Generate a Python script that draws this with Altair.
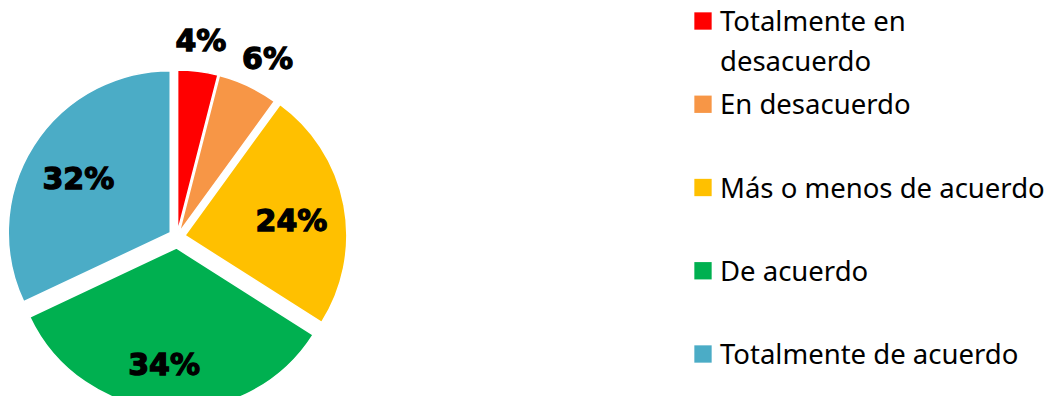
import altair as alt
import pandas as pd

# ---- data ----
categories = ["Totalmente en desacuerdo", "En desacuerdo", "Más o menos de acuerdo",
              "De acuerdo", "Totalmente de acuerdo"]
legend_labels = ["Totalmente en\ndesacuerdo", "En desacuerdo", "Más o menos de acuerdo",
                 "De acuerdo", "Totalmente de acuerdo"]
values = [4, 6, 24, 34, 32]

# ---- styles ----
colors = ["#FF0000", "#F79646", "#FFC000", "#00B050", "#4BACC6"]
explode_px = [5, 5, 8, 11, 8]
label_radius = [191, 194, 107.5, 119, 106]
label_shift_deg = [-0.2, 1.9, 3.6, 2.3, -2.5]

df = pd.DataFrame({
    "cat": categories,
    "legend": legend_labels,
    "value": values,
    "order": list(range(len(values))),
    "explode": explode_px,
    "lr": label_radius,
    "ls": label_shift_deg,
})

CX, CY, R = 169, 229, 162

base = alt.Chart(df).transform_window(
    cum="sum(value)", sort=[alt.SortField("order")], frame=[None, 0]
).transform_joinaggregate(
    total="sum(value)"
).transform_calculate(
    t1="datum.cum / datum.total * 2 * PI",
    t0="(datum.cum - datum.value) / datum.total * 2 * PI",
).transform_calculate(
    mid="(datum.t0 + datum.t1) / 2"
).transform_calculate(
    cx=f"{CX} + datum.explode * sin(datum.mid)",
    cy=f"{CY} - datum.explode * cos(datum.mid)",
    la="(datum.t0 + datum.t1) / 2 + datum.ls * PI / 180",
).transform_calculate(
    lx="datum.cx + datum.lr * sin(datum.la)",
    ly="datum.cy - datum.lr * cos(datum.la)",
    lbl="datum.value + '%'",
)

color = alt.Color("cat:N", scale=alt.Scale(domain=categories, range=colors), legend=None)

arcs = base.mark_arc(outerRadius=R, stroke="white", strokeWidth=1.5).encode(
    theta=alt.Theta("t0:Q", scale=None, stack=None),
    theta2=alt.Theta2("t1:Q"),
    x=alt.X("cx:Q", scale=None),
    y=alt.Y("cy:Q", scale=None),
    color=color,
)

labels = base.mark_text(font="DejaVu Sans", fontWeight="bold", fontSize=30,
                        color="black", stroke="black", strokeWidth=1.3).encode(
    x=alt.X("lx:Q", scale=None),
    y=alt.Y("ly:Q", scale=None),
    text="lbl:N",
)

leg_y = alt.Y("cat:N", scale=alt.Scale(domain=categories, range=[13, 346], padding=0),
              axis=None)

leg_sq = alt.Chart(df).mark_square(size=300, opacity=1, filled=True).encode(
    x=alt.value(695),
    y=leg_y,
    color=color,
)

leg_txt = alt.Chart(df).mark_text(align="left", baseline="top", dy=-12, lineBreak="\n",
                                  lineHeight=40, font="Noto Sans", fontSize=27.5,
                                  color="#000000").encode(
    x=alt.value(712),
    y=leg_y,
    text="legend:N",
)

chart = alt.layer(arcs, labels, leg_sq, leg_txt).resolve_scale(
    x="independent", y="independent", color="shared"
).properties(
    width=1036, height=388, padding=0,
    autosize=alt.AutoSizeParams(type="none"),
).configure_view(stroke=None)

chart.save("out.html", embed_options={"renderer": "svg", "actions": False})
